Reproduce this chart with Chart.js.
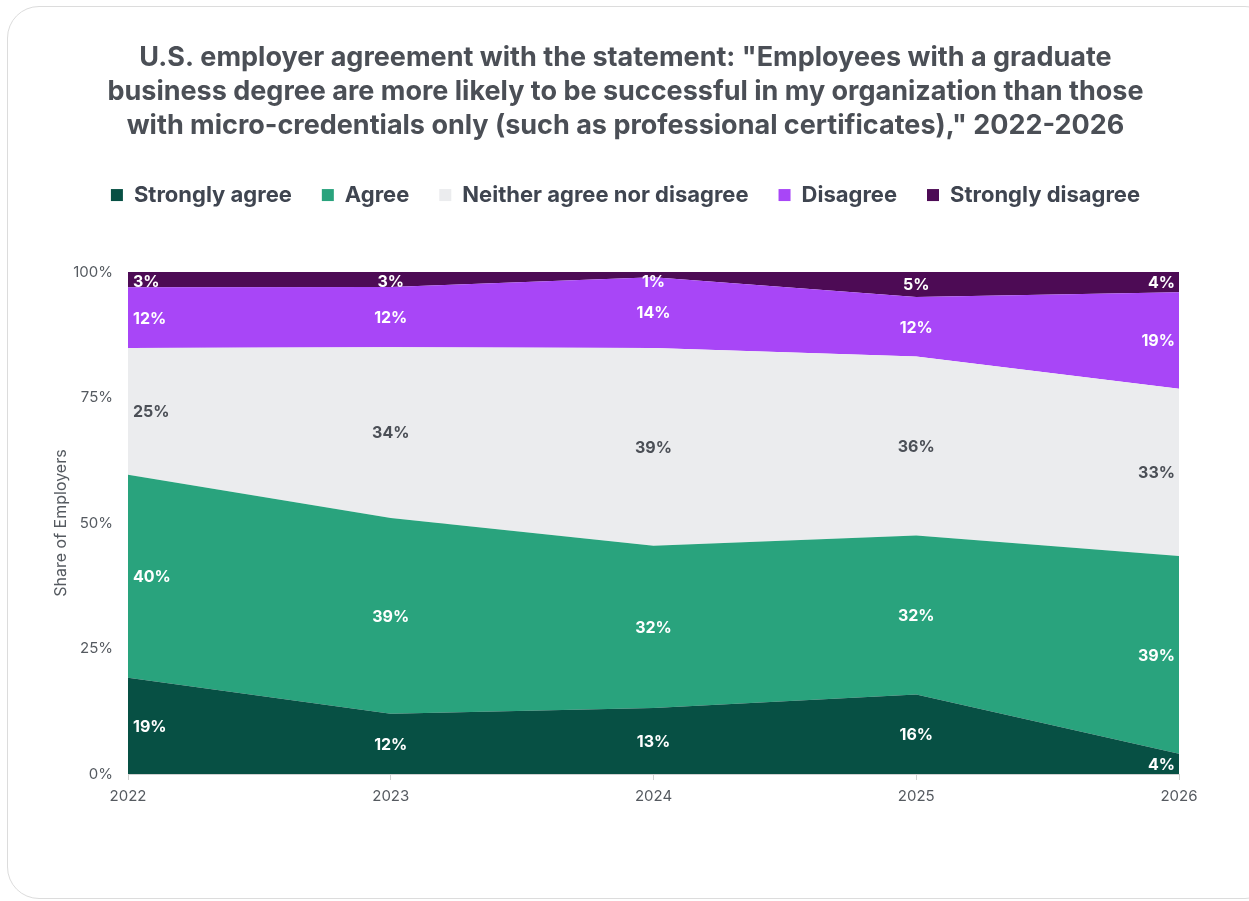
<!DOCTYPE html>
<html>
<head>
<meta charset="utf-8">
<script src="https://cdn.jsdelivr.net/npm/chart.js@4.4.1/dist/chart.umd.min.js"></script>
<style>
html,body{margin:0;padding:0;background:#fff;}
body{width:1249px;height:901px;position:relative;overflow:hidden;}
.card{position:absolute;left:7px;top:6px;width:1270px;height:893px;border:1.5px solid #dcdcdc;border-radius:32px;box-sizing:border-box;}
#chart{position:absolute;left:0;top:0;}
</style>
</head>
<body>
<div class="card"></div>
<canvas id="chart" width="1249" height="901"></canvas>
<script>

/* Survey answers, share of employers (%) */

const years=["2022","2023","2024","2025","2026"];

const stronglyAgree=[19,12,13,16,4];
const agree=[40,39,32,32,39];
const neither=[25,34,39,36,33];
const disagree=[12,12,14,12,19];
const stronglyDisagree=[3,3,1,5,4];

const yTicks=[0,25,50,75,100];

const seriesNames=["Strongly agree","Agree","Neither agree nor disagree","Disagree","Strongly disagree"];
const seriesColors=["#075044","#29a37d","#ebecee","#a846f7","#4d0b55"];
const labelColors=["#ffffff","#ffffff","#4b4f56","#ffffff","#ffffff"];

const raw=[stronglyAgree,agree,neither,disagree,stronglyDisagree];

/* each year is scaled so the stack reaches 100% */

const totals=years.map((y,j)=>raw.reduce((s,arr)=>s+arr[j],0));

const datasets=raw.map((arr,i)=>({
label:seriesNames[i],
data:arr.map((v,j)=>v/totals[j]*100),
raw:arr,
backgroundColor:seriesColors[i],
borderColor:seriesColors[i],
borderWidth:0,
pointRadius:0,
tension:0,
fill:i===0?"origin":"-1"
}));

const FONT="Inter, 'Open Sans', sans-serif";

/* value labels in the middle of each band, kept inside the plot */

const bandLabels={
id:"bandLabels",
afterDatasetsDraw(chart){
const ctx=chart.ctx;
const yScale=chart.scales.y;
const top=chart.chartArea.top;
const last=years.length-1;
ctx.save();
ctx.font="bold 16px "+FONT;
ctx.textBaseline="middle";
chart.data.datasets.forEach((ds,i)=>{
const meta=chart.getDatasetMeta(i);
meta.data.forEach((pt,j)=>{
const bottom=i===0
?yScale.getPixelForValue(0)
:chart.getDatasetMeta(i-1).data[j].y;
const mid=Math.max((pt.y+bottom)/2,top+9);
let x=pt.x;
ctx.textAlign="center";
if(j===0){ctx.textAlign="left";x+=5;}
if(j===last){ctx.textAlign="right";x-=4;}
ctx.fillStyle=labelColors[i];
ctx.fillText(ds.raw[j]+"%",x,mid+1);
});
});
ctx.restore();
}
};

/* extra room under the legend */

const legendGap={
id:"legendGap",
beforeInit(chart){
const fit=chart.legend.fit;
chart.legend.fit=function(){
fit.bind(chart.legend)();
this.height+=56;
};
}
};

new Chart(document.getElementById("chart"),{
type:"line",
data:{labels:years,datasets:datasets},
plugins:[bandLabels,legendGap],
options:{
responsive:false,
animation:false,
layout:{padding:{top:41,left:72,right:70,bottom:89}},
plugins:{
tooltip:{enabled:false},
title:{
display:true,
text:[
"U.S. employer agreement with the statement: \"Employees with a graduate",
"business degree are more likely to be successful in my organization than those",
"with micro-credentials only (such as professional certificates),\" 2022-2026"
],
color:"#4b4f56",
font:{family:FONT,size:27,weight:"bold",lineHeight:1.26},
padding:{top:0,bottom:11}
},
legend:{
labels:{
color:"#3f4550",
font:{family:FONT,size:22,weight:"bold"},
boxWidth:12,
boxHeight:12,
padding:30
}
}
},
scales:{
x:{
offset:false,
grid:{display:true,drawOnChartArea:false,drawTicks:true,tickLength:6,color:"#d0d0d0"},
border:{display:true,color:"#d0d0d0"},
ticks:{color:"#555a60",font:{family:FONT,size:15},padding:7,maxRotation:0}
},
y:{
stacked:true,
min:0,
max:100,
afterBuildTicks(scale){
scale.ticks=yTicks.map(v=>({value:v}));
},
afterFit(scale){
scale.width=56;
},
grid:{color:"#dedede",drawTicks:false},
border:{display:false},
ticks:{
color:"#555a60",
font:{family:FONT,size:15},
padding:15,
callback:v=>v+"%"
},
title:{
display:true,
text:"Share of Employers",
color:"#555a60",
font:{family:FONT,size:16},
padding:{top:-20,bottom:0}
}
}
}
}
});

</script>
</body>
</html>
